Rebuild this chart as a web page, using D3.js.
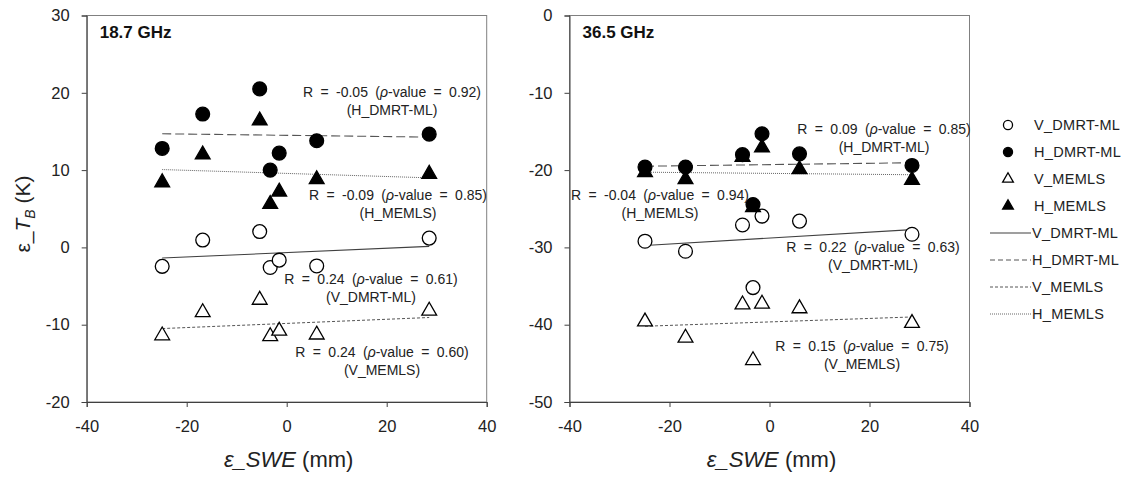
<!DOCTYPE html>
<html>
<head>
<meta charset="utf-8">
<script src="https://cdn.jsdelivr.net/npm/d3@7"></script>
<style>
  body { margin: 0; background: #fff; }
  svg { font-family: "Liberation Sans", Arial, sans-serif; }
</style>
</head>
<body>
<script>
// shared x positions of the 7 sites (epsilon SWE, mm)
var sweErr = [-24.9, -16.8, -5.4, -3.3, -1.5, 6.0, 28.5];

// 18.7 GHz
var f18_vDmrt  = [-2.45, 0.95, 2.05, -2.6, -1.65, -2.4, 1.2];
var f18_hDmrt  = [12.8, 17.25, 20.5, 10.0, 12.2, 13.8, 14.65];
var f18_vMemls = [-11.4, -8.4, -6.8, -11.5, -10.8, -11.3, -8.2];
var f18_hMemls = [8.4, 12.0, 16.4, 5.6, 7.2, 8.8, 9.5];
// trend lines: value at first and last x
var f18_trend = { vDmrt: [-1.38, 0.13], hDmrt: [14.7, 14.27], vMemls: [-10.5, -9.07], hMemls: [10.07, 9.0] };
var f18_notes = [
  ["R = -0.05 (", "ρ", "-value = 0.92)", "(H_DMRT-ML)"],
  ["R = -0.09 (", "ρ", "-value = 0.85)", "(H_MEMLS)"],
  ["R = 0.24 (", "ρ", "-value = 0.61)", "(V_DMRT-ML)"],
  ["R = 0.24 (", "ρ", "-value = 0.60)", "(V_MEMLS)"]
];

// 36.5 GHz
var f36_vDmrt  = [-29.2, -30.5, -27.1, -35.2, -25.95, -26.6, -28.3];
var f36_hDmrt  = [-19.6, -19.6, -18.0, -24.45, -15.3, -17.9, -19.4];
var f36_vMemls = [-39.6, -41.7, -37.4, -44.6, -37.3, -37.9, -39.8];
var f36_hMemls = [-20.3, -21.2, -18.3, -24.8, -17.1, -19.9, -21.3];
var f36_trend = { vDmrt: [-29.75, -27.7], hDmrt: [-19.5, -19.05], vMemls: [-40.2, -39.0], hMemls: [-20.27, -20.6] };
var f36_notes = [
  ["R = 0.09 (", "ρ", "-value = 0.85)", "(H_DMRT-ML)"],
  ["R = -0.04 (", "ρ", "-value = 0.94)", "(H_MEMLS)"],
  ["R = 0.22 (", "ρ", "-value = 0.63)", "(V_DMRT-ML)"],
  ["R = 0.15 (", "ρ", "-value = 0.75)", "(V_MEMLS)"]
];

var xTicks = [-40, -20, 0, 20, 40];
var legendNames = ["V_DMRT-ML", "H_DMRT-ML", "V_MEMLS", "H_MEMLS"];

// line styles per series
var lineStyle = {
  vDmrt:  { dash: null,  color: "#404040", w: 1.1 },
  hDmrt:  { dash: "9,4", color: "#555", w: 1.1 },
  vMemls: { dash: "3,2", color: "#555", w: 1 },
  hMemls: { dash: "1,1", color: "#666", w: 1 }
};

var svg = d3.select("body").append("svg")
    .attr("width", 1124)
    .attr("height", 479);

function marker(g, type, x, y, size) {
  var sym = type.indexOf("Memls") >= 0 ? d3.symbolTriangle : d3.symbolCircle;
  var filled = type[0] === "h";
  g.append("path")
    .attr("d", d3.symbol().type(sym).size(size)())
    .attr("transform", "translate(" + x + "," + y + ")")
    .attr("fill", filled ? "#000" : "#fff")
    .attr("stroke", "#000")
    .attr("stroke-width", 1.3);
}

function plainFmt(d) { return String(d); }

function styleAxis(a) {
  a.select(".domain").attr("stroke", "#404040");
  a.selectAll("line").attr("stroke", "#404040");
  a.selectAll(".tick text")
    .attr("font-size", 16.5)
    .attr("font-family", "Liberation Sans, Arial, sans-serif")
    .attr("fill", "#222");
}

function drawPanel(p) {
  var x = d3.scaleLinear().domain([-40, 40]).range([p.left, p.left + 400]);
  var y = d3.scaleLinear().domain(p.yDomain).range([402, 15.5]);
  var g = svg.append("g");

  // frame
  g.append("rect")
    .attr("x", p.left).attr("y", 15.5)
    .attr("width", 400).attr("height", 386.5)
    .attr("fill", "none").attr("stroke", "#808080").attr("stroke-width", 1);

  g.append("g")
    .attr("transform", "translate(0,402)")
    .call(d3.axisBottom(x).tickValues(xTicks).tickFormat(plainFmt).tickSize(5).tickPadding(13))
    .call(styleAxis);

  g.append("g")
    .attr("transform", "translate(" + p.left + ",0)")
    .call(d3.axisLeft(y).tickValues(p.yTicks).tickFormat(plainFmt).tickSize(5).tickPadding(12))
    .call(styleAxis);

  // trend lines
  var line = d3.line().x(function(d) { return x(d[0]); }).y(function(d) { return y(d[1]); });
  Object.keys(p.trend).forEach(function(k) {
    var t = p.trend[k];
    var s = lineStyle[k];
    g.append("path")
      .datum([[sweErr[0], t[0]], [sweErr[sweErr.length - 1], t[1]]])
      .attr("d", line)
      .attr("fill", "none")
      .attr("stroke", s.color)
      .attr("stroke-width", s.w)
      .attr("stroke-dasharray", s.dash);
  });

  // points, drawn in the same order as the legend
  [["vDmrt", p.vDmrt], ["hDmrt", p.hDmrt], ["vMemls", p.vMemls], ["hMemls", p.hMemls]].forEach(function(s) {
    s[1].forEach(function(v, i) {
      marker(g, s[0], x(sweErr[i]), y(v), s[0].indexOf("Memls") >= 0 ? 95 : 150);
    });
  });

  // panel title
  g.append("text")
    .attr("x", p.left + 13).attr("y", 38)
    .attr("font-size", 17).attr("font-weight", "bold").attr("fill", "#111")
    .text(p.title);

  // R annotations
  p.notes.forEach(function(n, i) {
    var pos = p.notePos[i];
    var t = g.append("text")
      .attr("x", pos[0]).attr("y", pos[1])
      .attr("text-anchor", "middle")
      .attr("font-size", 14).attr("fill", "#222")
      .attr("word-spacing", 3.5);
    t.append("tspan").text(n[0]);
    t.append("tspan").attr("font-style", "italic").text(n[1]);
    t.append("tspan").text(n[2]);
    g.append("text")
      .attr("x", pos[0]).attr("y", pos[1] + 18)
      .attr("text-anchor", "middle")
      .attr("font-size", 14).attr("fill", "#222")
      .text(n[3]);
  });

  // x title
  var xt = g.append("text")
    .attr("x", p.left + 202).attr("y", 467)
    .attr("text-anchor", "middle")
    .attr("font-size", 22).attr("fill", "#222");
  xt.append("tspan").attr("font-style", "italic").text("ε_SWE");
  xt.append("tspan").text(" (mm)");
}

drawPanel({
  left: 86.7, yDomain: [-20, 30], yTicks: [-20, -10, 0, 10, 20, 30],
  vDmrt: f18_vDmrt, hDmrt: f18_hDmrt, vMemls: f18_vMemls, hMemls: f18_hMemls,
  trend: f18_trend, notes: f18_notes, title: "18.7 GHz",
  notePos: [[392, 97], [398, 200], [371, 284], [382, 357]]
});

drawPanel({
  left: 569.5, yDomain: [-50, 0], yTicks: [-50, -40, -30, -20, -10, 0],
  vDmrt: f36_vDmrt, hDmrt: f36_hDmrt, vMemls: f36_vMemls, hMemls: f36_hMemls,
  trend: f36_trend, notes: f36_notes, title: "36.5 GHz",
  notePos: [[884, 134], [660, 200], [873, 252], [862, 351]]
});

// y title
var yt = svg.append("text")
  .attr("transform", "translate(30,214) rotate(-90)")
  .attr("text-anchor", "middle")
  .attr("font-size", 21).attr("fill", "#222");
yt.append("tspan").text("ε_");
yt.append("tspan").attr("font-style", "italic").text("T");
yt.append("tspan").attr("font-style", "italic").attr("font-size", 14).attr("dy", 5).text("B");
yt.append("tspan").attr("dy", -5).text(" (K)");

// legend
var leg = svg.append("g");
var legKeys = ["vDmrt", "hDmrt", "vMemls", "hMemls"];
legKeys.forEach(function(k, i) {
  var yy = 125 + i * 27;
  marker(leg, k, 1008, yy, k.indexOf("Memls") >= 0 ? 50 : 65);
  leg.append("text").attr("x", 1034).attr("y", yy + 5)
    .attr("font-size", 14.5).attr("letter-spacing", 0.3).attr("fill", "#222").text(legendNames[i]);
});
legKeys.forEach(function(k, i) {
  var yy = 233 + i * 27;
  var s = lineStyle[k];
  leg.append("line").attr("x1", 990).attr("x2", 1031).attr("y1", yy).attr("y2", yy)
    .attr("stroke", s.color).attr("stroke-width", s.w)
    .attr("stroke-dasharray", k === "hDmrt" ? "5,3" : s.dash);
  leg.append("text").attr("x", 1032).attr("y", yy + 5)
    .attr("font-size", 14.5).attr("letter-spacing", 0.3).attr("fill", "#222").text(legendNames[i]);
});
</script>
</body>
</html>
